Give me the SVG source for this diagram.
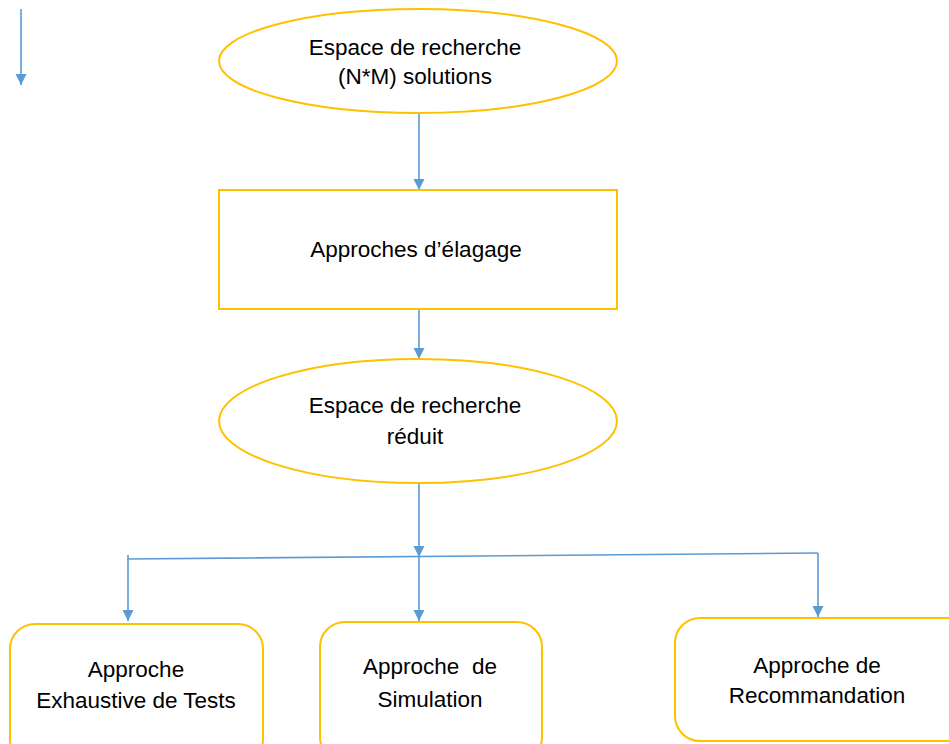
<svg xmlns="http://www.w3.org/2000/svg" width="949" height="744" viewBox="0 0 949 744">
  <style>
    .shape { fill: #ffffff; stroke: #FFC000; stroke-width: 2; }
    .wire { fill: none; stroke: #5B9BD5; stroke-width: 1.6; }
    .label { font-family: "Liberation Sans", Arial, sans-serif; font-size: 22.5px; fill: #000000; text-anchor: middle; }
  </style>
  <defs>
    <marker id="arrow" markerUnits="userSpaceOnUse" markerWidth="12" markerHeight="12" refX="11" refY="6" orient="auto">
      <path d="M0,0.5 L11,6 L0,11.5 z" fill="#5B9BD5"/>
    </marker>
  </defs>

  <!-- connectors -->
  <g id="connectors">
    <line class="wire" x1="21" y1="9" x2="21" y2="85" marker-end="url(#arrow)"/>
    <line class="wire" x1="419" y1="113" x2="419" y2="190" marker-end="url(#arrow)"/>
    <line class="wire" x1="419" y1="310" x2="419" y2="359" marker-end="url(#arrow)"/>
    <line class="wire" x1="419" y1="483" x2="419" y2="557" marker-end="url(#arrow)"/>
    <path class="wire" d="M128,555 V559 L818,553"/>
    <line class="wire" x1="128" y1="559" x2="128" y2="621" marker-end="url(#arrow)"/>
    <line class="wire" x1="419" y1="556" x2="419" y2="621" marker-end="url(#arrow)"/>
    <line class="wire" x1="818" y1="553" x2="818" y2="617" marker-end="url(#arrow)"/>
  </g>

  <g id="espace-initial">
    <ellipse class="shape" cx="418" cy="61" rx="199" ry="52"/>
    <text class="label" x="415" y="55">Espace de recherche</text>
    <text class="label" x="415" y="84">(N*M) solutions</text>
  </g>

  <g id="elagage">
    <rect class="shape" x="219" y="190" width="398" height="119"/>
    <text class="label" x="416" y="257">Approches d’élagage</text>
  </g>

  <g id="espace-reduit">
    <ellipse class="shape" cx="418" cy="421" rx="199" ry="62"/>
    <text class="label" x="415" y="413">Espace de recherche</text>
    <text class="label" x="415" y="444">réduit</text>
  </g>

  <g id="exhaustive">
    <rect class="shape" x="10" y="624" width="253" height="140" rx="25" ry="25"/>
    <text class="label" x="136" y="677">Approche</text>
    <text class="label" x="136" y="708">Exhaustive de Tests</text>
  </g>

  <g id="simulation">
    <rect class="shape" x="320" y="622" width="222" height="140" rx="25" ry="25"/>
    <text class="label" x="430" y="674" xml:space="preserve" style="white-space: pre">Approche  de</text>
    <text class="label" x="430" y="707">Simulation</text>
  </g>

  <g id="recommandation">
    <rect class="shape" x="675" y="618" width="300" height="123" rx="25" ry="25"/>
    <text class="label" x="817" y="673">Approche de</text>
    <text class="label" x="817" y="703">Recommandation</text>
  </g>
</svg>
